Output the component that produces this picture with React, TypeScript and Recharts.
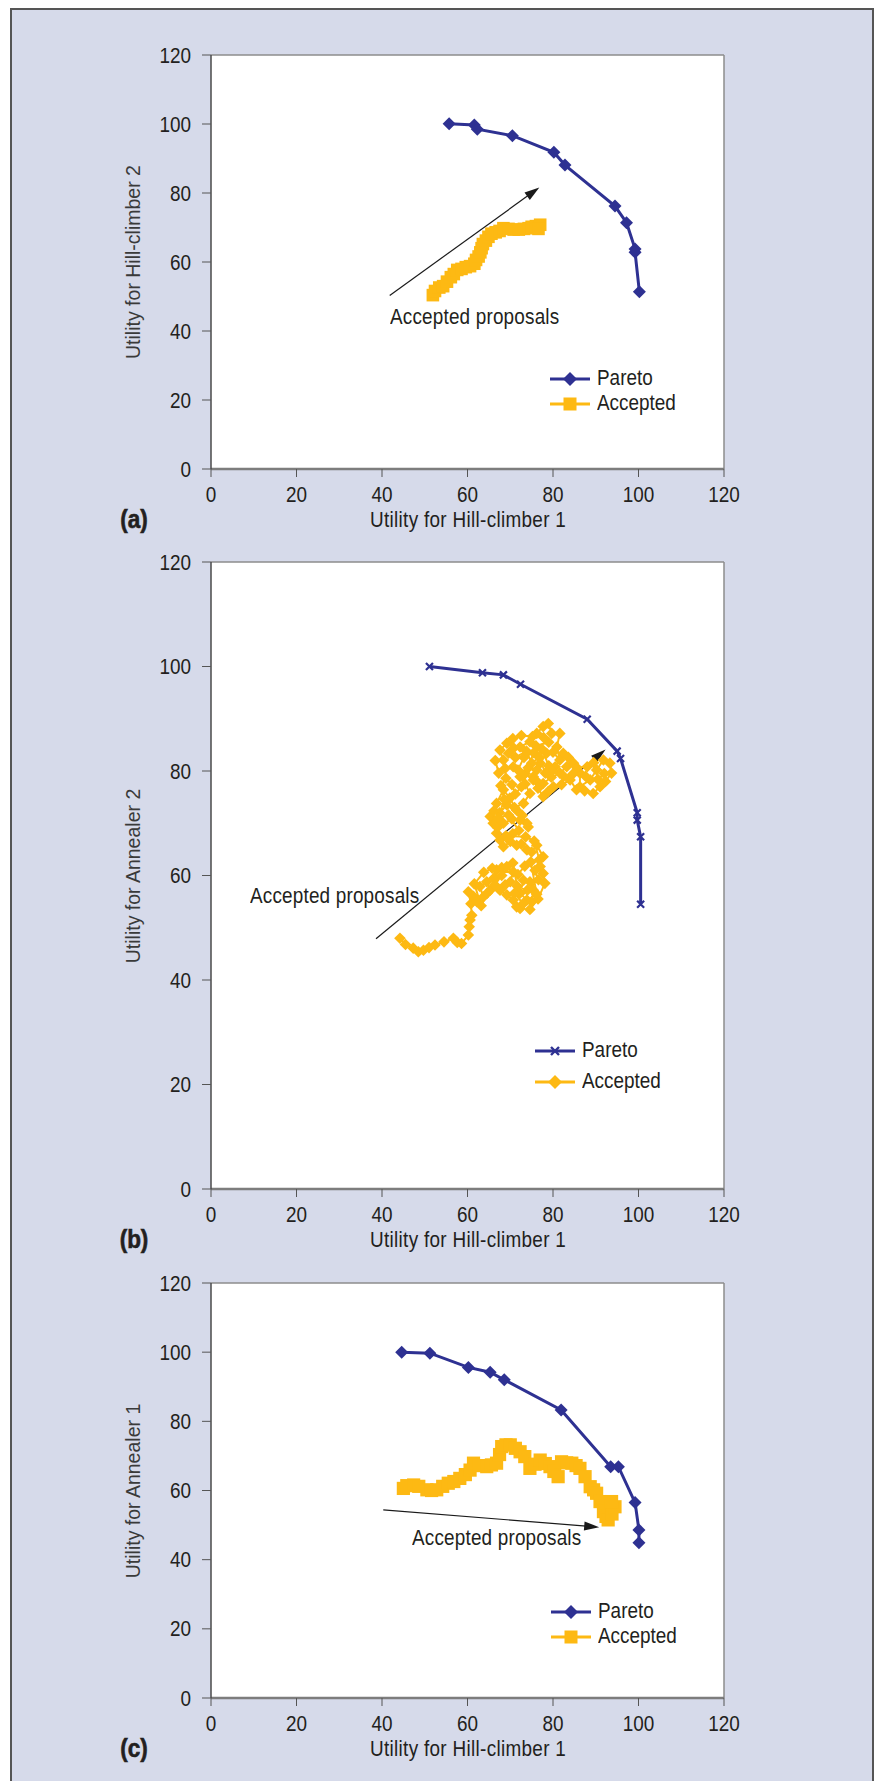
import React from 'react';
import { ScatterChart, Scatter, XAxis, YAxis, CartesianGrid, ReferenceLine, Legend } from 'recharts';

const axisTicks = [0, 20, 40, 60, 80, 100, 120];

// (a) hill-climber 1 vs hill-climber 2
const paretoA = [
  [55.7, 100.1], [61.6, 99.7], [62.3, 98.5], [70.5, 96.6], [80.2, 91.8], [82.8, 88.1],
  [94.5, 76.2], [97.2, 71.4], [99.2, 63.8], [99.2, 62.8], [100.2, 51.4],
];
const acceptedA = [
  [51.9, 50.4], [52.4, 51.6], [53.4, 52.6], [54.3, 53.0], [55.2, 54.3], [56.1, 55.6], [56.8, 56.5],
  [57.6, 57.7], [58.6, 58.0], [59.6, 58.5], [60.6, 58.8], [61.6, 59.5], [62.0, 60.6], [62.6, 61.6],
  [63.0, 62.8], [63.3, 64.0], [63.6, 65.2], [64.3, 66.2], [64.9, 67.3], [65.6, 68.2], [66.6, 68.6],
  [67.5, 69.0], [68.4, 69.8], [69.6, 69.6], [70.8, 69.4], [72.0, 69.4], [73.2, 69.6], [74.3, 69.8],
  [75.0, 70.2], [76.0, 70.4], [77.0, 70.8], [76.6, 69.6],
];

// (b) hill-climber 1 vs annealer 2
const paretoB = [
  [51.1, 100.0], [63.5, 98.8], [68.4, 98.4], [72.4, 96.6], [88.0, 89.9], [95.0, 83.8],
  [95.8, 82.4], [99.7, 72.0], [99.7, 70.6], [100.5, 67.4], [100.5, 54.5],
];
const acceptedB = [
  [44.2, 48.0], [45.5, 46.8], [47.3, 46.1], [48.5, 45.4], [49.7, 45.7], [51.0, 46.2], [52.4, 46.7],
  [54.5, 47.3], [56.7, 48.0], [57.6, 47.2], [58.6, 47.0], [60.2, 48.6], [60.4, 50.2], [60.6, 51.5],
  [61.0, 52.4], [60.8, 54.6], [60.2, 56.9], [61.4, 56.0], [62.2, 55.0], [63.7, 55.9], [62.9, 57.9],
  [64.5, 58.8], [65.3, 57.2], [66.2, 59.5], [66.8, 61.1], [68.0, 61.5], [69.2, 61.7], [70.7, 60.7],
  [70.0, 58.8], [68.8, 58.2], [67.6, 57.2], [69.2, 56.3], [70.7, 55.3], [71.5, 54.0], [72.3, 53.7],
  [73.9, 55.3], [72.3, 56.6], [73.1, 59.1], [74.6, 58.8], [75.4, 57.2], [75.0, 55.0], [74.6, 53.5],
  [76.5, 55.5], [78.1, 58.5], [77.7, 60.4], [77.0, 61.7], [77.7, 63.6], [76.2, 65.8], [75.0, 64.5],
  [73.9, 64.9], [72.6, 66.0], [71.5, 65.8], [70.0, 66.5], [68.4, 65.5], [67.6, 66.8], [66.8, 68.1],
  [66.0, 70.0], [67.0, 69.2], [68.4, 70.0], [70.4, 70.8], [72.3, 70.6], [74.2, 69.3], [73.9, 70.0],
  [72.8, 71.5], [71.5, 72.5], [69.9, 74.8], [68.4, 76.4], [66.8, 73.8], [65.3, 71.3], [66.2, 72.4],
  [67.5, 72.0], [69.2, 73.5], [71.0, 73.0], [73.1, 73.8], [74.6, 75.7], [73.5, 77.5], [72.3, 78.9],
  [70.7, 80.8], [68.8, 80.5], [67.3, 79.6], [66.5, 82.0], [68.4, 82.1], [67.6, 84.0], [69.2, 85.3],
  [70.8, 84.4], [72.3, 84.6], [74.6, 85.6], [76.2, 87.2], [77.7, 88.5], [78.9, 89.1], [79.7, 87.2],
  [81.6, 87.2], [80.9, 84.6], [81.6, 82.1], [80.0, 83.6], [78.5, 83.4], [77.0, 81.5], [76.2, 80.2],
  [75.4, 78.9], [76.5, 77.8], [77.7, 77.6], [79.6, 78.8], [81.6, 79.6], [83.2, 80.8], [84.8, 81.5],
  [86.3, 79.6], [86.3, 77.0], [88.7, 78.3], [90.2, 80.2], [91.8, 82.1], [93.3, 81.5], [93.7, 79.6],
  [92.3, 78.0], [91.0, 77.0], [89.4, 75.7], [87.4, 76.2], [85.5, 76.4], [84.0, 78.3], [82.0, 77.4],
  [80.1, 77.0], [78.9, 76.1], [77.7, 75.1], [76.5, 76.7], [75.4, 78.3], [73.5, 79.5], [71.8, 80.2],
  [73.2, 82.6], [75.5, 83.5], [77.4, 84.2], [79.0, 81.0], [80.5, 80.8], [82.4, 83.4], [83.6, 82.6],
  [85.6, 80.6], [88.0, 80.8], [89.5, 81.6], [92.0, 79.5], [90.5, 78.4], [87.6, 79.0], [84.6, 79.4],
  [82.5, 79.0], [79.8, 80.0], [78.2, 79.6], [76.8, 82.6], [75.0, 81.5], [73.8, 83.8], [71.2, 82.6],
  [69.6, 83.4], [70.6, 86.2], [72.6, 86.8], [75.2, 86.6], [77.8, 86.4], [79.0, 85.5], [76.0, 84.8],
  [74.2, 80.6], [72.6, 77.0], [71.2, 75.6], [70.4, 77.4], [69.0, 78.6], [67.8, 77.2], [68.6, 74.6],
  [67.2, 71.0], [69.6, 71.6], [72.0, 68.6], [70.6, 68.0], [69.0, 67.6], [73.6, 67.4], [75.6, 66.6],
  [76.8, 63.0], [75.8, 61.0], [76.6, 59.2], [74.0, 57.2], [71.6, 58.0], [70.6, 62.4], [68.0, 60.0],
  [66.4, 58.2], [64.6, 56.6], [63.2, 54.2], [61.6, 58.4], [63.8, 60.6], [65.8, 61.4], [71.8, 60.2],
  [73.4, 61.8], [74.8, 62.6], [76.2, 56.4], [73.0, 54.6], [71.0, 56.6],
];

// (c) hill-climber 1 vs annealer 1
const paretoC = [
  [44.6, 100.0], [51.2, 99.7], [60.2, 95.6], [65.3, 94.2], [68.6, 92.0], [81.9, 83.3],
  [93.5, 66.9], [95.3, 66.9], [99.2, 56.5], [100.1, 48.6], [100.1, 44.9],
];
const acceptedC = [
  [45.0, 60.6], [45.8, 61.4], [47.4, 61.6], [48.6, 61.2], [50.5, 60.2], [51.6, 60.0], [52.8, 60.2],
  [54.2, 61.2], [55.5, 62.1], [56.8, 62.6], [58.2, 63.5], [59.5, 64.6], [60.6, 65.9], [61.4, 67.9],
  [62.8, 67.2], [64.5, 66.9], [65.6, 67.4], [66.8, 67.9], [67.5, 70.4], [68.0, 72.7], [69.0, 73.2],
  [70.0, 73.2], [71.2, 72.2], [72.3, 71.2], [73.4, 69.8], [74.6, 66.4], [75.8, 67.6], [77.0, 68.8],
  [78.2, 67.8], [79.3, 66.9], [80.2, 65.5], [81.2, 64.0], [82.0, 68.3], [83.2, 68.0], [84.4, 67.9],
  [85.4, 67.2], [86.3, 66.4], [87.5, 64.0], [88.7, 61.1], [89.5, 60.2], [90.2, 59.2], [91.0, 56.8],
  [91.8, 53.9], [92.4, 52.5], [92.9, 51.5], [93.8, 53.2], [94.5, 55.3], [93.7, 56.8],
];

// annotation arrows: [start, end] in data units
const arrowA = [[41.8, 50.3], [76.8, 81.6]];
const arrowB = [[38.6, 47.9], [92.3, 84.1]];
const arrowC = [[40.3, 54.4], [90.8, 49.4]];

const NAVY = '#2e3192';
const GOLD = '#fdb913';
const INK = '#231f20';
const COND = "'Liberation Sans', Arial, sans-serif";
const SQUEEZE = 0.88;

const toPts = (rows: number[][]) => rows.map(([x, y]) => ({ x, y }));

const diamond = (r: number, color: string) => (p: any) => {
  const { cx, cy } = p;
  if (cx == null || cy == null) return <g />;
  return <polygon points={`${cx},${cy - r} ${cx + r},${cy} ${cx},${cy + r} ${cx - r},${cy}`} fill={color} />;
};
const square = (h: number, color: string) => (p: any) => {
  const { cx, cy } = p;
  if (cx == null || cy == null) return <g />;
  return <rect x={cx - h} y={cy - h} width={2 * h} height={2 * h} fill={color} />;
};
const cross = (h: number, color: string) => (p: any) => {
  const { cx, cy } = p;
  if (cx == null || cy == null) return <g />;
  return (
    <path
      d={`M${cx - h},${cy - h}L${cx + h},${cy + h}M${cx - h},${cy + h}L${cx + h},${cy - h}`}
      stroke={color}
      strokeWidth={2.2}
    />
  );
};

// condensed tick labels (no narrow font installed, so squeeze a regular one)
const XTick = (props: any) => {
  const { x, y, payload } = props;
  return (
    <text transform={`translate(${x},${y}) scale(${SQUEEZE},1)`} textAnchor="middle" dy="0.71em"
      fontSize={21.5} fontFamily={COND} fill={INK}>
      {payload.value}
    </text>
  );
};
const YTick = (props: any) => {
  const { x, y, payload } = props;
  return (
    <text transform={`translate(${x},${y}) scale(${SQUEEZE},1)`} textAnchor="end" dy="0.355em"
      fontSize={21.5} fontFamily={COND} fill={INK}>
      {payload.value}
    </text>
  );
};

const Arrow = (props: any) => {
  const { x1, y1, x2, y2 } = props;
  const ang = Math.atan2(y2 - y1, x2 - x1);
  const L = 15;
  const W = 4.5;
  const bx = x2 - L * Math.cos(ang);
  const by = y2 - L * Math.sin(ang);
  const px = -Math.sin(ang) * W;
  const py = Math.cos(ang) * W;
  return (
    <g>
      <line x1={x1} y1={y1} x2={bx + 2 * Math.cos(ang)} y2={by + 2 * Math.sin(ang)} stroke="#1a1a1a" strokeWidth={1.2} />
      <polygon points={`${x2},${y2} ${bx + px},${by + py} ${bx - px},${by - py}`} fill="#1a1a1a" />
    </g>
  );
};

type Icon = 'diamond' | 'square' | 'cross';

const LegendIcon = ({ kind, color }: { kind: Icon; color: string }) => {
  const cx = 20;
  const cy = 10;
  let mark;
  if (kind === 'diamond') mark = <polygon points={`${cx},${cy - 7} ${cx + 7},${cy} ${cx},${cy + 7} ${cx - 7},${cy}`} fill={color} />;
  else if (kind === 'square') mark = <rect x={cx - 6.5} y={cy - 6.5} width={13} height={13} fill={color} />;
  else mark = <path d={`M${cx - 4},${cy - 4}L${cx + 4},${cy + 4}M${cx - 4},${cy + 4}L${cx + 4},${cy - 4}`} stroke={color} strokeWidth={2.4} />;
  return (
    <svg width={40} height={20} style={{ display: 'block' }}>
      <line x1={0} y1={cy} x2={40} y2={cy} stroke={color} strokeWidth={3} />
      {mark}
    </svg>
  );
};

const squeezed = (spacing = 0): React.CSSProperties => ({
  display: 'inline-block',
  fontFamily: COND,
  fontSize: 21.5,
  letterSpacing: spacing,
  lineHeight: 1,
  color: INK,
  whiteSpace: 'nowrap',
  transform: `scaleX(${SQUEEZE})`,
  transformOrigin: 'left center',
});

interface PanelProps {
  top: number;
  height: number;
  marginTop: number;
  marginBottom: number;
  pareto: number[][];
  accepted: number[][];
  paretoKind: Icon;
  acceptedKind: Icon;
  acceptedLineWidth: number;
  arrow: number[][];
  yTitle: string;
  letter: string;
  note: { left: number; y: number };
  legend: { left: number; y: number; gap: number };
  shapes: { pareto: any; accepted: any };
}

function Panel(p: PanelProps) {
  const plotTop = p.marginTop;
  const plotBottom = p.height - p.marginBottom - 30;
  const plotMid = (plotTop + plotBottom) / 2;
  const titleY = plotBottom + 52;

  const legendContent = () => (
    <div>
      {[
        { name: 'Pareto', kind: p.paretoKind, color: NAVY },
        { name: 'Accepted', kind: p.acceptedKind, color: GOLD },
      ].map((it) => (
        <div key={it.name} style={{ display: 'flex', alignItems: 'center', height: p.legend.gap }}>
          <LegendIcon kind={it.kind} color={it.color} />
          <span style={{ ...squeezed(), marginLeft: 7 }}>{it.name}</span>
        </div>
      ))}
    </div>
  );

  return (
    <div style={{ position: 'absolute', left: 0, top: p.top, width: 877, height: p.height }}>
      <ScatterChart
        width={877}
        height={p.height}
        margin={{ top: p.marginTop, right: 153, bottom: p.marginBottom, left: 151 }}
      >
        <CartesianGrid fill="#ffffff" horizontal={false} vertical={false} />
        <XAxis
          type="number"
          dataKey="x"
          domain={[0, 120]}
          ticks={axisTicks}
          interval={0}
          height={30}
          tickSize={8}
          tickMargin={10}
          axisLine={{ stroke: '#7d7d7d', strokeWidth: 2.5 }}
          tickLine={{ stroke: '#555' }}
          tick={<XTick />}
          allowDataOverflow
        />
        <YAxis
          type="number"
          dataKey="y"
          domain={[0, 120]}
          ticks={axisTicks}
          interval={0}
          width={60}
          tickSize={9}
          tickMargin={11}
          axisLine={{ stroke: '#4a4a4a', strokeWidth: 1.5 }}
          tickLine={{ stroke: '#555' }}
          tick={<YTick />}
          allowDataOverflow
        />
        <ReferenceLine y={120} stroke="#8c8c8c" strokeWidth={1.5} />
        <ReferenceLine x={120} stroke="#8c8c8c" strokeWidth={1.5} />
        <Scatter
          name="Accepted"
          data={toPts(p.accepted)}
          fill={GOLD}
          line={{ stroke: GOLD, strokeWidth: p.acceptedLineWidth }}
          lineType="joint"
          shape={p.shapes.accepted}
          isAnimationActive={false}
        />
        <Scatter
          name="Pareto"
          data={toPts(p.pareto)}
          fill={NAVY}
          line={{ stroke: NAVY, strokeWidth: 3 }}
          lineType="joint"
          shape={p.shapes.pareto}
          isAnimationActive={false}
        />
        <ReferenceLine
          segment={[
            { x: p.arrow[0][0], y: p.arrow[0][1] },
            { x: p.arrow[1][0], y: p.arrow[1][1] },
          ]}
          shape={Arrow}
          ifOverflow="visible"
        />
        <Legend
          layout="horizontal"
          verticalAlign="middle"
          align="center"
          content={legendContent}
          wrapperStyle={{ left: p.legend.left, top: p.legend.y - p.legend.gap / 2, width: 'auto', height: 'auto' }}
        />
      </ScatterChart>

      {/* annotation */}
      <div style={{ position: 'absolute', left: p.note.left, top: p.note.y, transform: 'translateY(-50%)' }}>
        <span style={squeezed(0.2)}>Accepted proposals</span>
      </div>

      {/* x title */}
      <div style={{ position: 'absolute', left: 467 - 97, top: titleY, transform: 'translateY(-50%)' }}>
        <span style={squeezed(0.35)}>Utility for Hill-climber 1</span>
      </div>

      {/* y title */}
      <div
        style={{
          position: 'absolute', left: 134, top: plotMid, transform: 'translate(-50%, -50%) rotate(-90deg)',
          fontFamily: COND, fontSize: 19.5, lineHeight: 1, color: '#3a3a3a', whiteSpace: 'nowrap',
        }}
      >
        {p.yTitle}
      </div>

      {/* panel letter */}
      <div
        style={{
          position: 'absolute', left: 134, top: titleY - 2, transform: 'translate(-50%, -50%) scaleX(0.9)',
          fontFamily: COND, fontWeight: 900, fontSize: 25, lineHeight: 1, color: INK,
          WebkitTextStroke: '0.6px ' + INK,
        }}
      >
        {p.letter}
      </div>
    </div>
  );
}

export default function App() {
  return (
    <div style={{ position: 'absolute', left: 0, top: 0, width: 877, height: 1781, background: '#fff', overflow: 'hidden' }}>
      <div
        style={{
          position: 'absolute', left: 10, top: 8, width: 860, height: 1800,
          background: '#d6daea', borderLeft: '2px solid #555', borderTop: '2px solid #555', borderRight: '2px solid #555',
        }}
      />
      <Panel
        top={0}
        height={545}
        marginTop={55}
        marginBottom={46}
        pareto={paretoA}
        accepted={acceptedA}
        paretoKind="diamond"
        acceptedKind="square"
        acceptedLineWidth={3}
        shapes={{ pareto: diamond(6.5, NAVY), accepted: square(6.3, GOLD) }}
        arrow={arrowA}
        yTitle="Utility for Hill-climber 2"
        letter="(a)"
        note={{ left: 390, y: 318 }}
        legend={{ left: 550, y: 379, gap: 25 }}
      />
      <Panel
        top={545}
        height={720}
        marginTop={17}
        marginBottom={46}
        pareto={paretoB}
        accepted={acceptedB}
        paretoKind="cross"
        acceptedKind="diamond"
        acceptedLineWidth={2}
        shapes={{ pareto: cross(3.5, NAVY), accepted: diamond(5.8, GOLD) }}
        arrow={arrowB}
        yTitle="Utility for Annealer 2"
        letter="(b)"
        note={{ left: 250, y: 896.7 - 545 }}
        legend={{ left: 535, y: 1051 - 545, gap: 31 }}
      />
      <Panel
        top={1265}
        height={516}
        marginTop={18}
        marginBottom={53}
        pareto={paretoC}
        accepted={acceptedC}
        paretoKind="diamond"
        acceptedKind="square"
        acceptedLineWidth={3}
        shapes={{ pareto: diamond(6.5, NAVY), accepted: square(6.6, GOLD) }}
        arrow={arrowC}
        yTitle="Utility for Annealer 1"
        letter="(c)"
        note={{ left: 412, y: 1539 - 1265 }}
        legend={{ left: 551, y: 1612 - 1265, gap: 24.5 }}
      />
    </div>
  );
}
